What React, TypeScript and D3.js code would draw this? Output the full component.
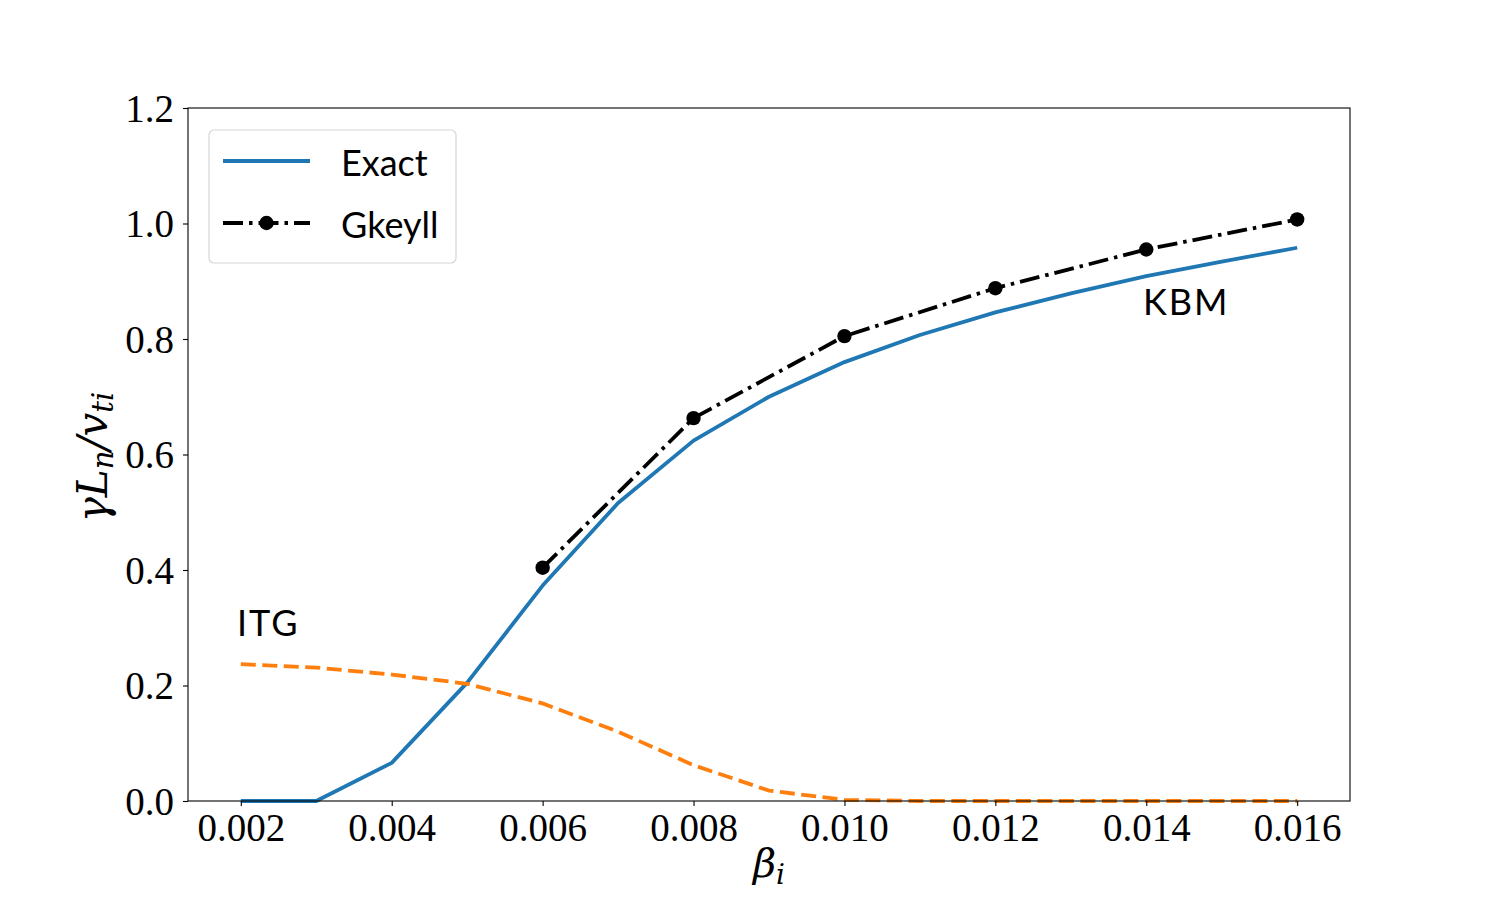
import { useEffect, useRef } from "react";
import * as d3 from "d3";

// beta_i values shared by the exact and ITG curves
const betaGrid = [
  0.002, 0.003, 0.004, 0.005, 0.006, 0.007, 0.008, 0.009, 0.01, 0.011, 0.012,
  0.013, 0.014, 0.015, 0.016,
];
const exactGamma = [
  0, 0, 0.066, 0.205, 0.373, 0.516, 0.624, 0.7, 0.76, 0.807, 0.846, 0.879,
  0.909, 0.934, 0.958,
];
const itgGamma = [
  0.237, 0.231, 0.219, 0.203, 0.169, 0.12, 0.062, 0.018, 0.002, 0, 0, 0, 0, 0,
  0,
];
const gkeyllBeta = [0.006, 0.008, 0.01, 0.012, 0.014, 0.016];
const gkeyllGamma = [0.404, 0.663, 0.805, 0.888, 0.955, 1.007];

const xTicks = [0.002, 0.004, 0.006, 0.008, 0.01, 0.012, 0.014, 0.016];
const yTicks = [0, 0.2, 0.4, 0.6, 0.8, 1.0, 1.2];

const BLUE = "#1f77b4";
const ORANGE = "#ff7f0e";
const SERIF = "'Liberation Serif', 'Times New Roman', serif";
const MATH = "'DejaVu Serif', serif";
const SANS = "Lato, 'Open Sans', sans-serif";
const DASHDOT = "20 6 3.5 6";

type Pt = { x: number; y: number };

export default function App() {
  const ref = useRef<SVGSVGElement | null>(null);

  useEffect(() => {
    const svg = d3.select(ref.current);
    svg.selectAll("*").remove();

    const W = 1500;
    const H = 900;
    const left = 188;
    const right = 1350;
    const top = 108;
    const bottom = 801;

    const x = d3.scaleLinear().domain([0.0013, 0.0167]).range([left, right]);
    const y = d3.scaleLinear().domain([0, 1.2]).range([bottom, top]);

    svg.attr("viewBox", `0 0 ${W} ${H}`);
    svg.append("rect").attr("width", W).attr("height", H).attr("fill", "#fff");

    const line = d3
      .line<Pt>()
      .x((d) => x(d.x))
      .y((d) => y(d.y));

    const exact = betaGrid.map((b, i) => ({ x: b, y: exactGamma[i] }));
    const itg = betaGrid.map((b, i) => ({ x: b, y: itgGamma[i] }));
    const gk = gkeyllBeta.map((b, i) => ({ x: b, y: gkeyllGamma[i] }));

    const plot = svg.append("g");

    plot
      .append("path")
      .datum(exact)
      .attr("fill", "none")
      .attr("stroke", BLUE)
      .attr("stroke-width", 3.8)
      .attr("stroke-linejoin", "round")
      .attr("d", line);

    plot
      .append("path")
      .datum(itg)
      .attr("fill", "none")
      .attr("stroke", ORANGE)
      .attr("stroke-width", 3.8)
      .attr("stroke-dasharray", "15 6.5")
      .attr("d", line);

    plot
      .append("path")
      .datum(gk)
      .attr("fill", "none")
      .attr("stroke", "#000")
      .attr("stroke-width", 3.8)
      .attr("stroke-dasharray", DASHDOT)
      .attr("d", line);

    plot
      .selectAll("circle.gk")
      .data(gk)
      .enter()
      .append("circle")
      .attr("class", "gk")
      .attr("cx", (d) => x(d.x))
      .attr("cy", (d) => y(d.y))
      .attr("r", 7.2)
      .attr("fill", "#000");

    // frame
    svg
      .append("rect")
      .attr("x", left)
      .attr("y", top)
      .attr("width", right - left)
      .attr("height", bottom - top)
      .attr("fill", "none")
      .attr("stroke", "#000")
      .attr("stroke-width", 1.1);

    // x axis
    const xAxis = svg
      .append("g")
      .attr("transform", `translate(0,${bottom})`)
      .call(
        d3
          .axisBottom(x)
          .tickValues(xTicks)
          .tickSize(5)
          .tickPadding(6)
          .tickFormat((d) => d3.format(".3f")(+d)),
      );
    xAxis.select(".domain").remove();
    xAxis.selectAll("line").attr("stroke", "#000").attr("stroke-width", 1.1);
    xAxis
      .selectAll("text")
      .attr("font-family", SERIF)
      .attr("font-size", 39)
      .attr("fill", "#000")
      .attr("dy", "0.75em");

    // y axis
    const yAxis = svg
      .append("g")
      .attr("transform", `translate(${left},0)`)
      .call(
        d3
          .axisLeft(y)
          .tickValues(yTicks)
          .tickSize(5)
          .tickPadding(9)
          .tickFormat((d) => d3.format(".1f")(+d)),
      );
    yAxis.select(".domain").remove();
    yAxis.selectAll("line").attr("stroke", "#000").attr("stroke-width", 1.1);
    yAxis
      .selectAll("text")
      .attr("font-family", SERIF)
      .attr("font-size", 39)
      .attr("fill", "#000")
      .attr("dy", "0.34em");

    // axis labels
    const xl = svg
      .append("text")
      .attr("x", 769)
      .attr("y", 877)
      .attr("text-anchor", "middle")
      .attr("font-family", MATH)
      .attr("font-style", "italic")
      .attr("font-size", 40)
      .attr("fill", "#000");
    xl.append("tspan").text("β");
    xl.append("tspan").attr("font-size", 28).attr("dy", 7).text("i");

    const yl = svg
      .append("text")
      .attr("transform", `translate(107,457) rotate(-90)`)
      .attr("text-anchor", "middle")
      .attr("font-family", MATH)
      .attr("font-style", "italic")
      .attr("font-size", 42)
      .attr("fill", "#000");
    yl.append("tspan").text("γL");
    yl.append("tspan").attr("font-size", 29).attr("dy", 6).text("n");
    yl.append("tspan").attr("dy", -6).text("/v");
    yl.append("tspan").attr("font-size", 29).attr("dy", 6).text("ti");

    // annotations
    svg
      .append("text")
      .attr("x", 237)
      .attr("y", 636)
      .attr("font-family", SANS)
      .attr("font-size", 36)
      .attr("letter-spacing", 2)
      .attr("fill", "#000")
      .text("ITG");
    svg
      .append("text")
      .attr("x", 1143)
      .attr("y", 315)
      .attr("font-family", SANS)
      .attr("font-size", 36)
      .attr("letter-spacing", 2)
      .attr("fill", "#000")
      .text("KBM");

    // legend
    const lg = svg.append("g");
    lg.append("rect")
      .attr("x", 209)
      .attr("y", 130)
      .attr("width", 247)
      .attr("height", 133)
      .attr("rx", 5)
      .attr("fill", "#fff")
      .attr("fill-opacity", 0.8)
      .attr("stroke", "#d6d6d6")
      .attr("stroke-width", 1.2);
    lg.append("line")
      .attr("x1", 223)
      .attr("x2", 310)
      .attr("y1", 161)
      .attr("y2", 161)
      .attr("stroke", BLUE)
      .attr("stroke-width", 3.8);
    lg.append("line")
      .attr("x1", 223)
      .attr("x2", 310)
      .attr("y1", 223)
      .attr("y2", 223)
      .attr("stroke", "#000")
      .attr("stroke-width", 3.8)
      .attr("stroke-dasharray", DASHDOT);
    lg.append("circle")
      .attr("cx", 266.5)
      .attr("cy", 223)
      .attr("r", 7.2)
      .attr("fill", "#000");
    lg.append("text")
      .attr("x", 341)
      .attr("y", 176)
      .attr("font-family", SANS)
      .attr("font-size", 36)
      .attr("fill", "#000")
      .text("Exact");
    lg.append("text")
      .attr("x", 341)
      .attr("y", 238)
      .attr("font-family", SANS)
      .attr("font-size", 36)
      .attr("fill", "#000")
      .text("Gkeyll");
  }, []);

  return (
    <svg
      ref={ref}
      width={1500}
      height={900}
      style={{ position: "absolute", left: 0, top: 0, display: "block" }}
    />
  );
}
